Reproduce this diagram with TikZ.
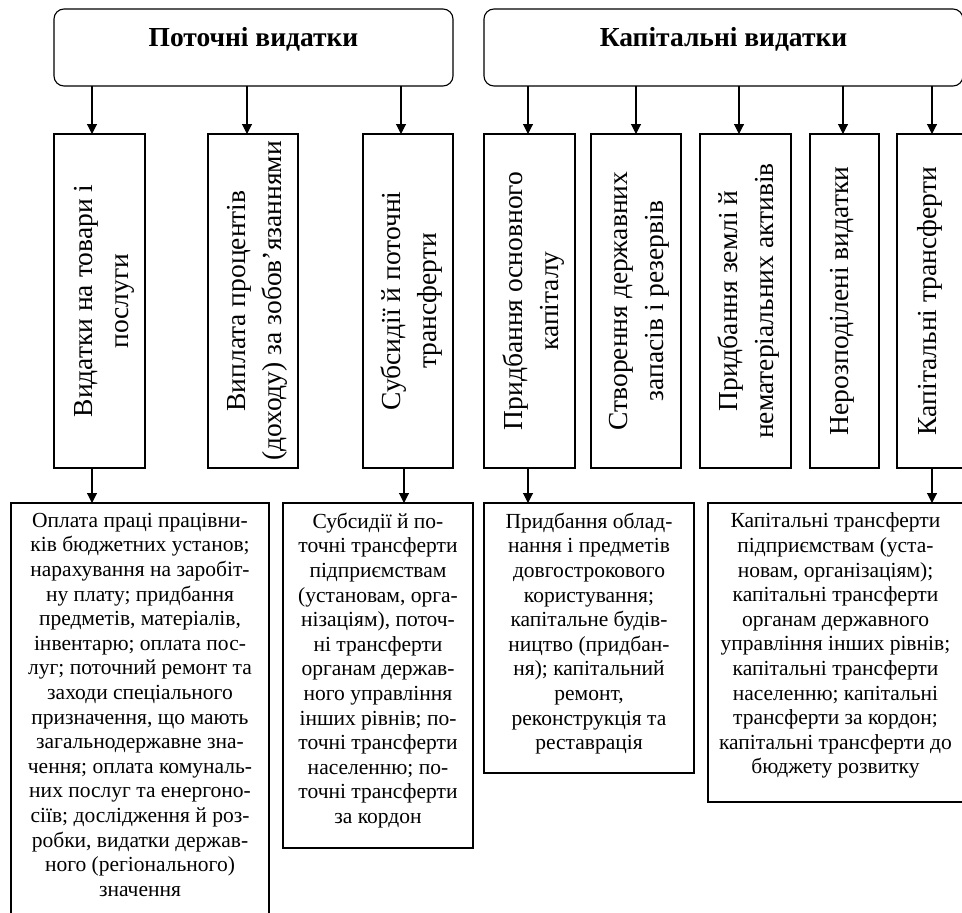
\documentclass[tikz,border=0pt]{standalone}
\usepackage{fontspec}
\setmainfont{Liberation Serif}
\usetikzlibrary{arrows.meta}
\begin{document}
\begin{tikzpicture}[x=1pt,y=-1pt,
  every node/.style={inner sep=0pt,outer sep=0pt},
  frame/.style={draw,line width=1.1pt,anchor=north west},
  headbox/.style={frame,rounded corners=10pt,minimum height=77pt},
  vbox/.style={frame,minimum height=334pt},
  vtxt/.style={rotate=90,align=center,font=\fontsize{27.5}{36}\selectfont},
  btxt/.style={align=center,anchor=north,font=\fontsize{21.5}{24.6}\selectfont},
  htxt/.style={anchor=base,font=\fontsize{27.5}{32}\selectfont\bfseries},
  arr/.style={line width=1.1pt,-{Triangle[length=10pt,width=10pt]}}
]
\useasboundingbox (0,0) rectangle (962,913);
\fill[white] (0,0) rectangle (962,913);
\clip (0,0) rectangle (962,913);

% headers
\node[headbox,minimum width=399pt] (h1) at (54,9) {};
\node[htxt] (h1t) at (253.5,46.7) {Поточні видатки};
\node[headbox,minimum width=479pt] (h2) at (484,9) {};
\node[htxt] (h2t) at (723.5,46.7) {Капітальні видатки};

% vertical boxes
\node[vbox,minimum width=91pt] (v1) at (54,134) {};
\node[vbox,minimum width=90pt] (v2) at (208,134) {};
\node[vbox,minimum width=90pt] (v3) at (363,134) {};
\node[vbox,minimum width=91pt] (v4) at (484,134) {};
\node[vbox,minimum width=90pt] (v5) at (591,134) {};
\node[vbox,minimum width=91pt] (v6) at (700,134) {};
\node[vbox,minimum width=69pt] (v7) at (810,134) {};
\node[vbox,minimum width=66pt] (v8) at (897,134) {};

\node[vtxt] (v1t) at (104.5,301) {Видатки на товари і\\послуги};
\node[vtxt] (v2t) at (257.5,301) {Виплата процентів\\(доходу) за зобов’язаннями};
\node[vtxt] (v3t) at (411.5,301) {Субсидії й поточні\\трансферти};
\node[vtxt] (v4t) at (533.5,301) {Придбання основного\\капіталу};
\node[vtxt] (v5t) at (639.5,301) {Створення державних\\запасів і резервів};
\node[vtxt] (v6t) at (748.5,301) {Придбання землі й\\нематеріальних активів};
\node[vtxt] (v7t) at (842,301) {Нерозподілені видатки};
\node[vtxt] (v8t) at (930,301) {Капітальні трансферти};

% bottom boxes
\node[frame,minimum width=258pt,minimum height=500pt] (b1) at (11,503) {};
\node[frame,minimum width=190pt,minimum height=345pt] (b2) at (283,503) {};
\node[frame,minimum width=210pt,minimum height=270pt] (b3) at (484,503) {};
\node[frame,minimum width=255pt,minimum height=299pt] (b4) at (708,503) {};

\node[btxt] (b1t) at (140,513) {Оплата праці працівни-\\ків бюджетних установ;\\нарахування на заробіт-\\ну плату; придбання\\предметів, матеріалів,\\інвентарю; оплата пос-\\луг; поточний ремонт та\\заходи спеціального\\призначення, що мають\\загальнодержавне зна-\\чення; оплата комуналь-\\них послуг та енергоно-\\сіїв; дослідження й роз-\\робки, видатки держав-\\ного (регіонального)\\значення};
\node[btxt] (b2t) at (378,513) {Субсидії й по-\\точні трансферти\\підприємствам\\(установам, орга-\\нізаціям), поточ-\\ні трансферти\\органам держав-\\ного управління\\інших рівнів; по-\\точні трансферти\\населенню; по-\\точні трансферти\\за кордон};
\node[btxt] (b3t) at (589,513) {Придбання облад-\\нання і предметів\\довгострокового\\користування;\\капітальне будів-\\ництво (придбан-\\ня); капітальний\\ремонт,\\реконструкція та\\реставрація};
\node[btxt] (b4t) at (835.5,513) {Капітальні трансферти\\підприємствам (уста-\\новам, організаціям);\\капітальні трансферти\\органам державного\\управління інших рівнів;\\капітальні трансферти\\населенню; капітальні\\трансферти за кордон;\\капітальні трансферти до\\бюджету розвитку};

% arrows from headers
\draw[arr] ([xshift=-7.5pt]v1.north |- h1.south) -- ([xshift=-7.5pt]v1.north);
\draw[arr] ([xshift=-6pt]v2.north |- h1.south) -- ([xshift=-6pt]v2.north);
\draw[arr] ([xshift=-7pt]v3.north |- h1.south) -- ([xshift=-7pt]v3.north);
\draw[arr] ([xshift=-1.5pt]v4.north |- h2.south) -- ([xshift=-1.5pt]v4.north);
\draw[arr] (v5.north |- h2.south) -- (v5.north);
\draw[arr] ([xshift=-6.5pt]v6.north |- h2.south) -- ([xshift=-6.5pt]v6.north);
\draw[arr] ([xshift=-1.5pt]v7.north |- h2.south) -- ([xshift=-1.5pt]v7.north);
\draw[arr] ([xshift=2pt]v8.north |- h2.south) -- ([xshift=2pt]v8.north);

% arrows to bottom boxes
\draw[arr] ([xshift=-7.5pt]v1.south) -- ([xshift=-7.5pt]v1.south |- b1.north);
\draw[arr] ([xshift=-4pt]v3.south) -- ([xshift=-4pt]v3.south |- b2.north);
\draw[arr] ([xshift=-1.5pt]v4.south) -- ([xshift=-1.5pt]v4.south |- b3.north);
\draw[arr] ([xshift=2pt]v8.south) -- ([xshift=2pt]v8.south |- b4.north);
\end{tikzpicture}
\end{document}
